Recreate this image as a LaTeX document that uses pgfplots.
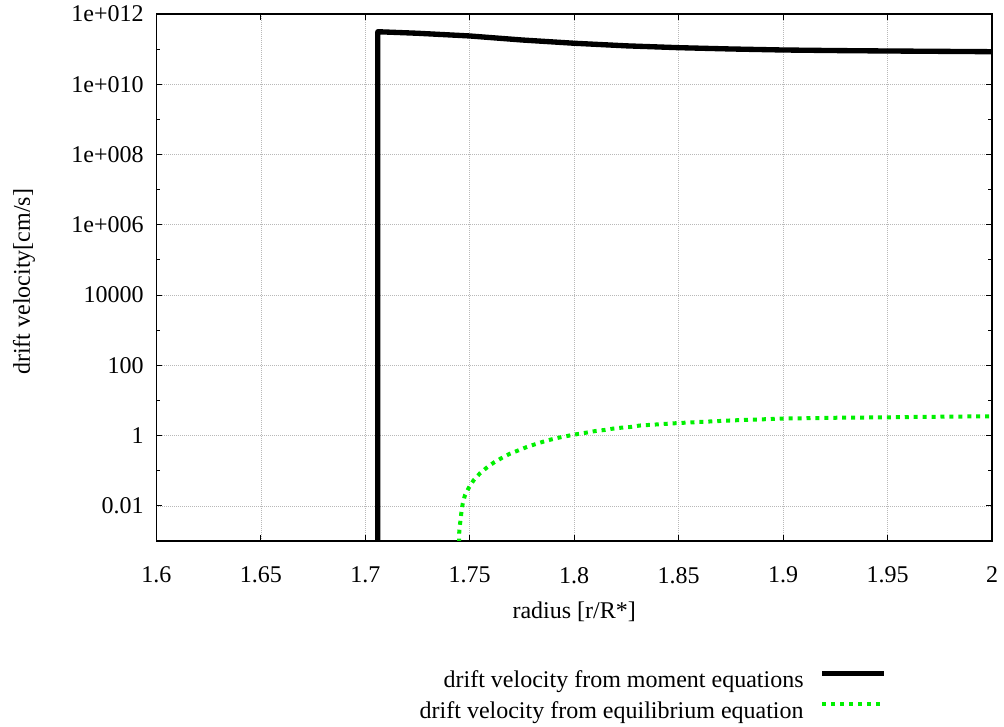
\documentclass[border=0pt]{standalone}
\usepackage{fontspec}
\setmainfont{Liberation Serif}
\newfontfamily\tickfont{Liberation Serif}
\usepackage{pgfplots}
\pgfplotsset{compat=1.18}
\definecolor{gpgreen}{RGB}{0,240,0}
\newcommand{\chartfont}{\fontsize{18}{20}\selectfont}
\pgfplotsset{mylegimg/.style={legend image code/.code={\draw[##1] (0pt,5pt) -- (46pt,5pt);}}}
\begin{document}
\begin{tikzpicture}
\begin{axis}[
  scale only axis, width=626.7pt, height=395.25pt,
  ymode=log, xmin=1.6, xmax=2.0, ymin=1e-3, ymax=1e12,
  /pgf/number format/assume math mode=true,
  xtick={1.6,1.65,1.7,1.75,1.8,1.85,1.9,1.95,2.0},
  xticklabels={{\tickfont 1.6},{\tickfont 1.65},{\tickfont 1.7},{\tickfont 1.75},{\tickfont 1.8},{\tickfont 1.85},{\tickfont 1.9},{\tickfont 1.95},{\tickfont 2}},
  ytick={1e-2,1,1e2,1e4,1e6,1e8,1e10,1e12},
  yticklabels={{\tickfont 0.01},{\tickfont 1},{\tickfont 100},{\tickfont 10000},{\tickfont 1e+006},{\tickfont 1e+008},{\tickfont 1e+010},{\tickfont 1e+012}},
  minor ytick={1e-1,1e1,1e3,1e5,1e7,1e9,1e11},
  grid=major,
  major grid style={draw=black!28, dash pattern=on 0.75pt off 0.75pt, line width=0.5pt},
  axis line style={line width=0.9pt},
  tick style={black, line width=0.75pt},
  major tick length=4.5pt, minor tick length=3pt,
  tick align=inside,
  xtick pos=both, ytick pos=both,
  xticklabel pos=lower, yticklabel pos=left,
  tick label style={font=\tickfont\chartfont},
  xticklabel style={yshift=-16pt},
  yticklabel style={xshift=-6pt},
  xlabel={radius [r/R*]}, ylabel={drift velocity[cm/s]},
  label style={font=\chartfont},
  xlabel style={at={(axis description cs:0.5,-0.1347)}, anchor=center},
  ylabel style={at={(axis description cs:-0.1585,0.492)}, anchor=center},
  legend style={at={(axis description cs:0.877,-0.235)}, anchor=north east, draw=none, fill=none, font=\chartfont, row sep=5pt, column sep=10pt, inner sep=2pt},
  legend cell align=right,
  legend plot pos=right,
  mylegimg,
]
\addplot[black, line width=4pt, line join=round] coordinates {
(1.7060,1e-6) (1.7060,3.13e11) (1.725,2.83e11) (1.75,2.37e11) (1.775,1.82e11)
(1.80,1.47e11) (1.825,1.24e11) (1.85,1.10e11) (1.875,1.01e11) (1.90,9.45e10)
(1.925,9.1e10) (1.95,8.85e10) (1.975,8.65e10) (2.0,8.45e10)
};
\addlegendentry{drift velocity from moment equations}
\addplot[gpgreen, line width=3pt, dash pattern=on 3pt off 3.7pt] coordinates {
(1.7448,5e-4) (1.7449,1.17e-3) (1.7450,2.01e-3) (1.7455,3.6e-3) (1.7460,6.6e-3)
(1.7466,0.0113) (1.7477,0.020) (1.7497,0.034) (1.7519,0.054) (1.7549,0.0845)
(1.7582,0.123) (1.7617,0.174) (1.7653,0.23) (1.7690,0.30) (1.7730,0.374)
(1.7770,0.465) (1.7812,0.565) (1.7853,0.675) (1.7893,0.785) (1.7934,0.895)
(1.7976,1.0) (1.8018,1.11) (1.8061,1.22) (1.8102,1.35) (1.8144,1.44)
(1.8186,1.58) (1.8229,1.69) (1.8270,1.76) (1.8312,1.93) (1.85,2.28)
(1.875,2.70) (1.90,3.05) (1.925,3.22) (1.95,3.32) (1.975,3.45) (2.0,3.54)
};
\addlegendentry{drift velocity from equilibrium equation}
\end{axis}
\pgfresetboundingbox
\path (-117.3pt,-139.5pt) rectangle (635.7pt,405.75pt);
\end{tikzpicture}
\end{document}
